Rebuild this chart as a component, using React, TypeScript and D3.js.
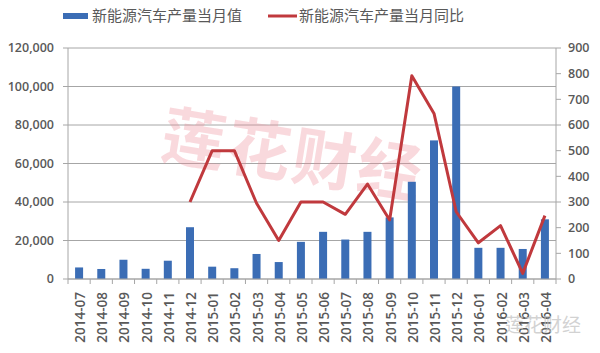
import React from "react";
import * as d3 from "d3";

const categories = [
  "2014-07", "2014-08", "2014-09", "2014-10", "2014-11", "2014-12",
  "2015-01", "2015-02", "2015-03", "2015-04", "2015-05", "2015-06",
  "2015-07", "2015-08", "2015-09", "2015-10", "2015-11", "2015-12",
  "2016-01", "2016-02", "2016-03", "2016-04",
];
const monthlyOutput = [
  6000, 5200, 10000, 5300, 9500, 26900,
  6400, 5600, 13000, 8800, 19300, 24500,
  20500, 24500, 32000, 50500, 72000, 100000,
  16200, 16200, 15600, 31000,
];
const yoyGrowth: (number | null)[] = [
  null, null, null, null, null, 300,
  500, 500, 295, 150, 300, 300,
  252, 370, 230, 792, 645, 262,
  141, 208, 22, 247,
];
const leftTicks = [0, 20000, 40000, 60000, 80000, 100000, 120000];
const rightTicks = [0, 100, 200, 300, 400, 500, 600, 700, 800, 900];
const seriesNames = ["新能源汽车产量当月值", "新能源汽车产量当月同比"];

const W = 600, H = 353;
const M = { left: 68, right: 556, top: 48, bottom: 279 };
const BAR = "#3b6db5";
const LINE = "#c0393d";
const TXT = "#595959";
const GRID = "#a6a6a6";
const FONT = "'Open Sans', 'Noto Sans CJK SC', sans-serif";

export default function App() {
  const x = d3.scaleBand<string>().domain(categories).range([M.left, M.right]).padding(0);
  const yL = d3.scaleLinear().domain([0, 120000]).range([M.bottom, M.top]);
  const yR = d3.scaleLinear().domain([0, 900]).range([M.bottom, M.top]);
  const bw = 8;
  const fmt = d3.format(",");
  const line = d3
    .line<number | null>()
    .defined((d) => d !== null)
    .x((_, i) => (x(categories[i]) as number) + x.bandwidth() / 2)
    .y((d) => yR(d as number));

  return (
    <svg width={W} height={H} style={{ position: "absolute", left: 0, top: 0, background: "#fff" }} fontFamily={FONT}>
      <rect x={0} y={0} width={W} height={H} fill="#fff" />
      {/* gridlines */}
      {leftTicks.map((t) => (
        <line key={"g" + t} x1={M.left} x2={M.right} y1={yL(t)} y2={yL(t)} stroke={GRID} strokeWidth={1} />
      ))}
      {/* watermark */}
      <text
        x={292}
        y={178}
        textAnchor="middle"
        fontSize={64}
        fontWeight="bold"
        fill="#ec8a94"
        fillOpacity={0.32}
        transform="rotate(9 292 160)"
        fontFamily="'Noto Sans CJK SC', sans-serif"
        letterSpacing={2}
      >
        莲花财经
      </text>
      {/* bars */}
      {monthlyOutput.map((v, i) => (
        <rect
          key={"b" + i}
          x={(x(categories[i]) as number) + x.bandwidth() / 2 - bw / 2}
          y={yL(v)}
          width={bw}
          height={M.bottom - yL(v)}
          fill={BAR}
        />
      ))}
      {/* line */}
      <path d={line(yoyGrowth) || ""} fill="none" stroke={LINE} strokeWidth={3} strokeLinejoin="round" />
      {/* axes */}
      <line x1={M.left} x2={M.left} y1={M.top} y2={M.bottom} stroke={GRID} />
      <line x1={M.right} x2={M.right} y1={M.top} y2={M.bottom} stroke={GRID} />
      <line x1={M.left} x2={M.right} y1={M.bottom} y2={M.bottom} stroke={GRID} />
      {leftTicks.map((t) => (
        <g key={"l" + t}>
          <line x1={M.left - 5} x2={M.left} y1={yL(t)} y2={yL(t)} stroke={GRID} />
          <text x={M.left - 14} y={yL(t)} dy="0.35em" textAnchor="end" fontSize={12.5} fill={TXT} fontWeight={600}>
            {fmt(t)}
          </text>
        </g>
      ))}
      {rightTicks.map((t) => (
        <g key={"r" + t}>
          <line x1={M.right} x2={M.right + 5} y1={yR(t)} y2={yR(t)} stroke={GRID} />
          <text x={M.right + 12} y={yR(t)} dy="0.35em" textAnchor="start" fontSize={12.5} fill={TXT} fontWeight={600}>
            {t}
          </text>
        </g>
      ))}
      {categories.map((c, i) => (
        <line
          key={"xt" + i}
          x1={x(c) as number}
          x2={x(c) as number}
          y1={M.bottom}
          y2={M.bottom + 5}
          stroke={GRID}
        />
      ))}
      <line x1={M.right} x2={M.right} y1={M.bottom} y2={M.bottom + 5} stroke={GRID} />
      {categories.map((c) => {
        const cx = (x(c) as number) + x.bandwidth() / 2 + 6;
        const cy = M.bottom + 13;
        return (
          <text
            key={"xl" + c}
            x={cx}
            y={cy}
            transform={`rotate(-90 ${cx} ${cy})`}
            textAnchor="end"
            fontSize={13.5}
            fill={TXT}
            fontWeight={600}
          >
            {c}
          </text>
        );
      })}
      {/* bottom-right watermark */}
      <text x={543} y={332} textAnchor="middle" fontSize={19} fill="#c4c4c4" fillOpacity={0.75} fontFamily="'Noto Sans CJK SC', sans-serif">
        莲花财经
      </text>
      {/* legend */}
      <rect x={63} y={13} width={25} height={6} fill={BAR} />
      <text x={92} y={16} dy="0.35em" fontSize={15} fill={TXT} fontFamily="'Noto Sans CJK SC', sans-serif">
        {seriesNames[0]}
      </text>
      <line x1={268} x2={297} y1={16} y2={16} stroke={LINE} strokeWidth={3} />
      <text x={299} y={16} dy="0.35em" fontSize={15} fill={TXT} fontFamily="'Noto Sans CJK SC', sans-serif">
        {seriesNames[1]}
      </text>
    </svg>
  );
}
